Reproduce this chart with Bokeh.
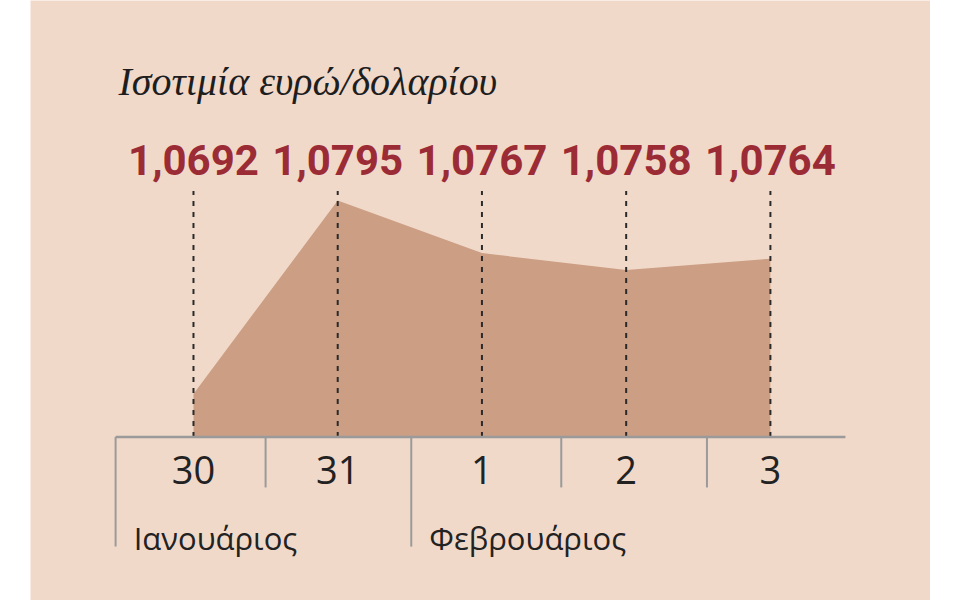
from bokeh.plotting import figure
from bokeh.models import Range1d, ColumnDataSource, LabelSet, Label, Spacer
from bokeh.layouts import row
from bokeh.core.properties import value
from bokeh.embed import file_html
from bokeh.resources import INLINE

# ---- data ----
days = ["30", "31", "1", "2", "3"]
rates = [1.0692, 1.0795, 1.0767, 1.0758, 1.0764]
rate_labels = ["1,0692", "1,0795", "1,0767", "1,0758", "1,0764"]
months = ["Ιανουάριος", "Φεβρουάριος"]
title = "Ισοτιμία ευρώ/δολαρίου"

BG = "#f1d9ca"
AREA = "#cc9e84"
RED = "#9b2c35"
GRID = "#9a9a9a"

W, H = 900, 600
base = 1.0669
p = figure(width=W, height=H, output_backend="svg", toolbar_location=None,
           x_range=Range1d(-1.13, 5.11), y_range=Range1d(1.0582, 1.09015),
           min_border=0, background_fill_color=BG, border_fill_color=BG,
           outline_line_color=None)
p.axis.visible = False
p.grid.visible = False

idx = list(range(len(days)))
src = ColumnDataSource(dict(x=idx, y=rates, base=[base] * len(idx),
                            top=[1.0800] * len(idx), lab=rate_labels, day=days,
                            ly=[426] * len(idx), dy=[117] * len(idx)))

p.varea(x="x", y1="base", y2="y", source=src, fill_color=AREA, fill_alpha=1)
p.segment(x0="x", y0="base", x1="x", y1="top", source=src,
          line_color="#2a2a2a", line_width=2, line_dash="5 6")

# axis line and separators
sep_day = [0.5, 2.55, 3.56]
sep_month = [-0.54, 1.51]
p.segment(x0=[-0.54], y0=[base], x1=[4.52], y1=[base], line_color=GRID, line_width=2.5)
p.segment(x0=sep_day, y0=[base] * 3, x1=sep_day, y1=[1.06422] * 3,
          line_color=GRID, line_width=2)
p.segment(x0=sep_month, y0=[base] * 2, x1=sep_month, y1=[1.06107] * 2,
          line_color=GRID, line_width=2)

# value labels
p.add_layout(LabelSet(x="x", y="ly", y_units="screen", text="lab", source=src,
                      text_align="center", text_baseline="alphabetic",
                      text_font=value("Roboto"), text_font_style="bold",
                      text_font_size="42px", text_color=RED))
# day labels
p.add_layout(LabelSet(x="x", y="dy", y_units="screen", text="day", source=src,
                      text_align="center", text_baseline="alphabetic",
                      text_font=value("Open Sans"), text_font_size="38px",
                      text_color="#222222"))
# month labels
for k, m in enumerate(months):
    p.add_layout(Label(x=sep_month[k] + 0.125, y=63,
                       y_units="screen", text=m, text_align="left",
                       text_baseline="alphabetic", text_font="Open Sans",
                       text_font_size="31px", text_color="#222222"))
# title
p.add_layout(Label(x=88, y=519, x_units="screen", y_units="screen", text=title,
                   text_align="left", text_baseline="alphabetic",
                   text_font="Liberation Serif", text_font_style="italic",
                   text_font_size="40px", text_color="#1e1e1e"))

layout = row(Spacer(width=30, height=H), p)
open("out.html", "w").write(file_html(layout, INLINE))
